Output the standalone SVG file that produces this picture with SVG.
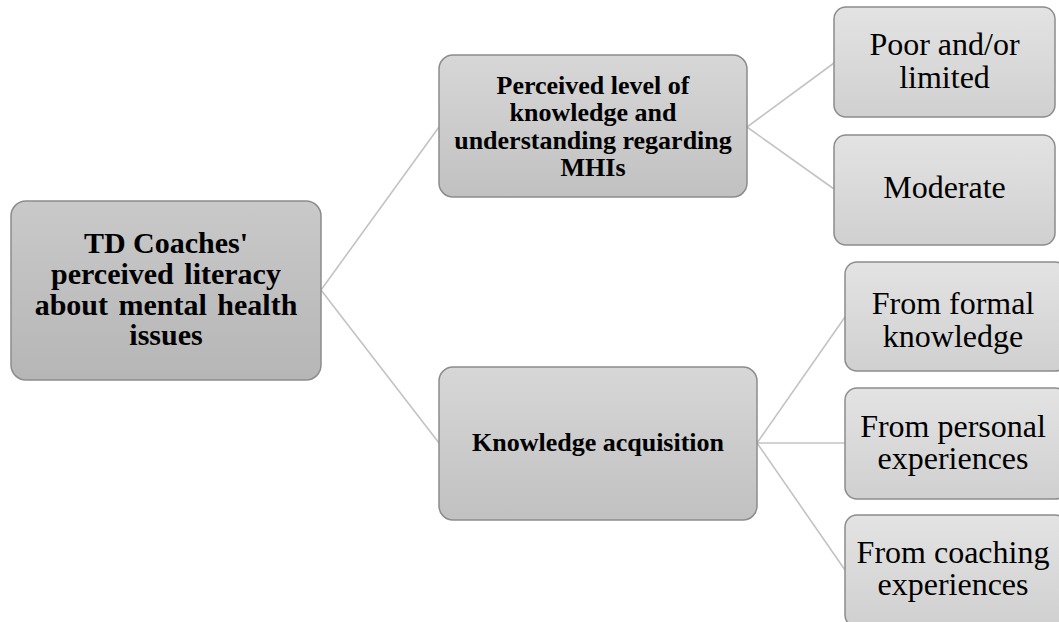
<svg xmlns="http://www.w3.org/2000/svg" width="1059" height="622" viewBox="0 0 1059 622">
  <defs>
    <linearGradient id="gRoot" x1="0" y1="0" x2="0" y2="1">
      <stop offset="0" stop-color="#c9c9c9"/>
      <stop offset="1" stop-color="#b6b6b6"/>
    </linearGradient>
    <linearGradient id="gMid" x1="0" y1="0" x2="0" y2="1">
      <stop offset="0" stop-color="#d7d7d7"/>
      <stop offset="1" stop-color="#c1c1c1"/>
    </linearGradient>
    <linearGradient id="gLeaf" x1="0" y1="0" x2="0" y2="1">
      <stop offset="0" stop-color="#e3e3e3"/>
      <stop offset="1" stop-color="#d0d0d0"/>
    </linearGradient>
  </defs>
  <style>
    .box { stroke: #8c8c8c; stroke-width: 1.5; }
    .root { fill: url(#gRoot); }
    .mid { fill: url(#gMid); }
    .leaf { fill: url(#gLeaf); }
    .link { stroke: #c3c3c3; stroke-width: 1.6; fill: none; }
    .tb { font-family: "Liberation Serif", "Times New Roman", serif; font-weight: bold; fill: #000; text-anchor: middle; }
    .tr { font-family: "Liberation Serif", "Times New Roman", serif; font-size: 32px; fill: #000; text-anchor: middle; }
  </style>
  <rect width="1059" height="622" fill="#ffffff"/>

  <!-- connectors -->
  <g id="connectors">
    <line class="link" x1="321" y1="290" x2="439" y2="127"/>
    <line class="link" x1="321" y1="290" x2="439" y2="443"/>
    <line class="link" x1="747" y1="127" x2="834" y2="63"/>
    <line class="link" x1="747" y1="127" x2="834" y2="189"/>
    <line class="link" x1="757" y1="443" x2="845" y2="317"/>
    <line class="link" x1="757" y1="443" x2="845" y2="443"/>
    <line class="link" x1="757" y1="443" x2="845" y2="570"/>
  </g>

  <!-- root -->
  <g id="root">
    <rect class="box root" x="11" y="201" width="310" height="179" rx="15"/>
    <text class="tb" font-size="30" x="166" y="253">TD Coaches'</text>
    <text class="tb" font-size="30" x="166" y="284" word-spacing="3">perceived literacy</text>
    <text class="tb" font-size="30" x="166" y="315" word-spacing="3">about mental health</text>
    <text class="tb" font-size="30" x="166" y="345">issues</text>
  </g>

  <!-- second level -->
  <g id="perceived-level">
    <rect class="box mid" x="439" y="55" width="308" height="142" rx="14"/>
    <text class="tb" font-size="26" x="593" y="94">Perceived level of</text>
    <text class="tb" font-size="26" x="593" y="121">knowledge and</text>
    <text class="tb" font-size="26" x="593" y="149">understanding regarding</text>
    <text class="tb" font-size="26" x="593" y="176">MHIs</text>
  </g>
  <g id="knowledge-acquisition">
    <rect class="box mid" x="439" y="367" width="318" height="153" rx="14"/>
    <text class="tb" font-size="26" x="598" y="451">Knowledge acquisition</text>
  </g>

  <!-- leaves -->
  <g id="poor-limited">
    <rect class="box leaf" x="834" y="7" width="221" height="110" rx="12"/>
    <text class="tr" x="944.5" y="55">Poor and/or</text>
    <text class="tr" x="944.5" y="88">limited</text>
  </g>
  <g id="moderate">
    <rect class="box leaf" x="834" y="135" width="221" height="110" rx="12"/>
    <text class="tr" x="944.5" y="198">Moderate</text>
  </g>
  <g id="formal-knowledge">
    <rect class="box leaf" x="845" y="262" width="222" height="109" rx="12"/>
    <text class="tr" x="953" y="314">From formal</text>
    <text class="tr" x="953" y="347">knowledge</text>
  </g>
  <g id="personal-experiences">
    <rect class="box leaf" x="845" y="388" width="222" height="111" rx="12"/>
    <text class="tr" x="953" y="437">From personal</text>
    <text class="tr" x="953" y="469">experiences</text>
  </g>
  <g id="coaching-experiences">
    <rect class="box leaf" x="845" y="515" width="222" height="112" rx="12"/>
    <text class="tr" x="953" y="563">From coaching</text>
    <text class="tr" x="953" y="595">experiences</text>
  </g>
</svg>
